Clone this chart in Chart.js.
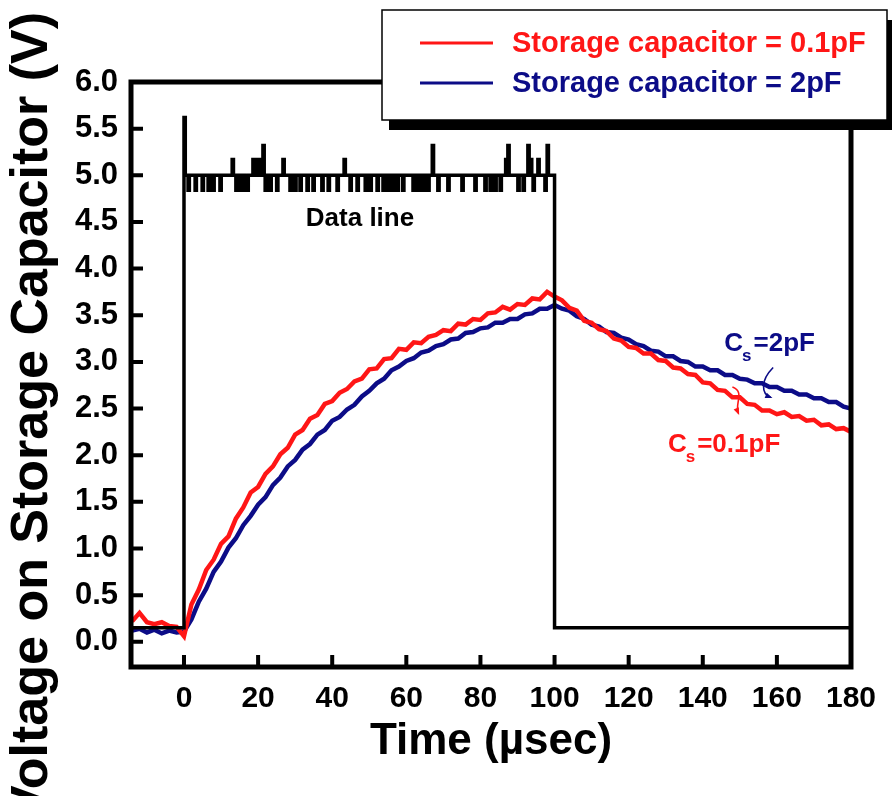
<!DOCTYPE html>
<html>
<head>
<meta charset="utf-8">
<script src="https://cdn.jsdelivr.net/npm/chart.js@4.4.0/dist/chart.umd.min.js"></script>
<style>
html, body { margin: 0; padding: 0; background: #fff; }
#wrap { width: 892px; height: 796px; }
</style>
</head>
<body>
<div id="wrap"><canvas id="myChart" width="892" height="796"></canvas></div>
<script>
// time (usec)
var timeUs = [-14,-12,-10,-8,-6,-4,-2,0,2,4,
  6,8,10,12,14,16,18,20,22,24,
  26,28,30,32,34,36,38,40,42,44,
  46,48,50,52,54,56,58,60,62,64,
  66,68,70,72,74,76,78,80,82,84,
  86,88,90,92,94,96,98,100,102,104,
  106,108,110,112,114,116,118,120,122,124,
  126,128,130,132,134,136,138,140,142,144,
  146,148,150,152,154,156,158,160,162,164,
  166,168,170,172,174,176,178,180];

// Cs = 0.1pF
var vSmallCap = [0.22,0.31,0.21,0.19,0.21,0.17,0.16,0.06,0.40,0.56,
  0.77,0.88,1.05,1.13,1.32,1.44,1.60,1.66,1.80,1.88,
  2.01,2.08,2.22,2.27,2.39,2.43,2.55,2.58,2.67,2.71,
  2.79,2.82,2.92,2.93,3.03,3.04,3.14,3.13,3.21,3.20,
  3.27,3.29,3.34,3.33,3.41,3.40,3.46,3.45,3.52,3.53,
  3.59,3.56,3.62,3.61,3.68,3.67,3.75,3.70,3.66,3.58,
  3.55,3.44,3.42,3.35,3.33,3.25,3.23,3.16,3.15,3.09,
  3.09,3.02,3.01,2.94,2.93,2.87,2.86,2.78,2.77,2.70,
  2.69,2.62,2.62,2.55,2.54,2.48,2.48,2.44,2.46,2.41,
  2.42,2.37,2.38,2.32,2.33,2.28,2.29,2.25];

// Cs = 2pF
var vLargeCap = [0.12,0.14,0.10,0.13,0.09,0.12,0.10,0.11,0.24,0.43,
  0.57,0.75,0.86,1.01,1.11,1.25,1.35,1.47,1.55,1.68,
  1.76,1.88,1.95,2.06,2.12,2.22,2.27,2.37,2.41,2.49,
  2.54,2.63,2.69,2.77,2.82,2.91,2.95,3.01,3.04,3.10,
  3.12,3.17,3.19,3.24,3.25,3.31,3.32,3.36,3.37,3.42,
  3.42,3.46,3.46,3.51,3.52,3.57,3.57,3.61,3.57,3.55,
  3.49,3.46,3.40,3.38,3.32,3.31,3.26,3.24,3.19,3.17,
  3.12,3.11,3.06,3.06,3.01,3.00,2.95,2.95,2.91,2.91,
  2.86,2.86,2.82,2.81,2.77,2.77,2.73,2.73,2.69,2.69,
  2.65,2.65,2.61,2.61,2.57,2.57,2.52,2.50];

// data line pulse: levels, edges and the glitches on the high level
var dataLow = 0.15, dataHigh = 5.0;
var dataStart = -14.3, dataOn = 0, dataOff = 100, dataEnd = 180;
var glitchT = [0.0,1.1,3.0,4.9,6.5,7.8,9.7,13.0,14.0,14.8,15.6,16.4,17.0,18.6,19.2,19.9,20.5,21.3,21.9,23.2,
  25.0,26.7,28.6,29.9,31.3,33.2,34.8,37.2,38.9,41.3,43.2,44.8,46.7,48.9,50.2,52.1,53.7,54.5,55.3,56.2,
  57.5,59.0,61.8,62.6,63.4,64.2,65.0,65.8,67.0,68.5,71.2,75.0,78.5,81.2,82.6,83.9,85.3,86.8,87.4,90.1,
  91.5,92.8,93.5,94.2,95.5,97.4,98.0];
var glitchV = [5.62,4.84,4.84,4.84,4.84,4.84,4.84,5.17,4.84,4.84,4.84,4.84,4.84,5.17,5.17,5.17,5.17,5.32,4.84,4.84,
  4.84,5.17,4.84,4.84,4.84,4.84,4.84,4.84,4.84,4.84,5.17,4.84,4.84,4.84,4.84,4.84,4.84,4.84,4.84,4.84,
  4.84,4.84,4.84,4.84,4.84,4.84,4.84,4.84,5.32,4.84,4.84,4.84,4.84,4.84,4.84,4.84,4.84,5.17,5.32,4.84,
  4.84,5.32,5.17,4.84,5.17,4.84,5.32];

var xTicks = [0,20,40,60,80,100,120,140,160,180];
var yTicks = [0,0.5,1,1.5,2,2.5,3,3.5,4,4.5,5,5.5,6];
var seriesNames = ['Storage capacitor = 0.1pF', 'Storage capacitor = 2pF'];
var seriesColors = ['#ff1616', '#0c0c87'];

var FONT = "'Liberation Sans', Arial, sans-serif";

function pairs(xs, ys) {
  var out = [];
  for (var i = 0; i < xs.length; i++) out.push({x: xs[i], y: ys[i]});
  return out;
}

var dataLine = [{x: dataStart, y: dataLow}, {x: dataOn, y: dataLow}];
for (var i = 0; i < glitchT.length; i++) {
  var t = glitchT[i];
  dataLine.push({x: t, y: dataHigh}, {x: t, y: glitchV[i]}, {x: t + 0.35, y: glitchV[i]}, {x: t + 0.35, y: dataHigh});
}
dataLine.push({x: dataOff, y: dataHigh}, {x: dataOff, y: dataLow}, {x: dataEnd, y: dataLow});

function subText(ctx, x, y, main, sub, rest, size) {
  ctx.font = 'bold ' + size + 'px ' + FONT;
  ctx.fillText(main, x, y);
  var w = ctx.measureText(main).width;
  ctx.font = 'bold ' + Math.round(size * 0.65) + 'px ' + FONT;
  ctx.fillText(sub, x + w - 1, y + 10);
  var w2 = ctx.measureText(sub).width;
  ctx.font = 'bold ' + size + 'px ' + FONT;
  ctx.fillText(rest, x + w + w2 + 1, y);
}

function curlArrow(ctx, pts, color) {
  ctx.strokeStyle = color; ctx.fillStyle = color; ctx.lineWidth = 1.6;
  ctx.beginPath();
  ctx.moveTo(pts[0][0], pts[0][1]);
  ctx.bezierCurveTo(pts[1][0], pts[1][1], pts[2][0], pts[2][1], pts[3][0], pts[3][1]);
  ctx.stroke();
  var ex = pts[3][0], ey = pts[3][1];
  var ang = Math.atan2(ey - pts[2][1], ex - pts[2][0]);
  ctx.beginPath();
  ctx.moveTo(ex + 2 * Math.cos(ang), ey + 2 * Math.sin(ang));
  ctx.lineTo(ex - 6 * Math.cos(ang - 0.5), ey - 6 * Math.sin(ang - 0.5));
  ctx.lineTo(ex - 6 * Math.cos(ang + 0.5), ey - 6 * Math.sin(ang + 0.5));
  ctx.closePath();
  ctx.fill();
}

var decor = {
  id: 'decor',
  afterDatasetsDraw: function(chart) {
    var ctx = chart.ctx, a = chart.chartArea, xs = chart.scales.x, ys = chart.scales.y;
    ctx.save();
    ctx.strokeStyle = '#000';
    ctx.lineWidth = 5;
    ctx.strokeRect(a.left, a.top, a.right - a.left, a.bottom - a.top);
    ctx.lineWidth = 4;
    ctx.beginPath();
    xTicks.forEach(function(t) {
      var p = xs.getPixelForValue(t);
      ctx.moveTo(p, a.bottom); ctx.lineTo(p, a.bottom - 12);
    });
    yTicks.forEach(function(v) {
      var p = ys.getPixelForValue(v);
      ctx.moveTo(a.left, p); ctx.lineTo(a.left + 12, p);
    });
    ctx.stroke();

    // text labels inside the plot
    ctx.fillStyle = '#000';
    ctx.textAlign = 'center';
    ctx.textBaseline = 'middle';
    ctx.font = 'bold 26px ' + FONT;
    ctx.fillText('Data line', xs.getPixelForValue(47.5), ys.getPixelForValue(4.53));

    ctx.textAlign = 'left';
    ctx.textBaseline = 'alphabetic';
    ctx.fillStyle = seriesColors[1];
    subText(ctx, xs.getPixelForValue(145.8), ys.getPixelForValue(3.12), 'C', 's', '=2pF', 26);
    ctx.fillStyle = seriesColors[0];
    subText(ctx, xs.getPixelForValue(130.6), ys.getPixelForValue(2.03), 'C', 's', '=0.1pF', 26);

    function P(t, v) { return [xs.getPixelForValue(t), ys.getPixelForValue(v)]; }
    curlArrow(ctx, [P(159.0, 2.94), P(155.5, 2.80), P(155.8, 2.66), P(158.3, 2.62)], seriesColors[1]);
    curlArrow(ctx, [P(148.0, 2.73), P(151.5, 2.68), P(148.5, 2.55), P(149.6, 2.45)], seriesColors[0]);
    ctx.restore();
  },
  afterDraw: function(chart) {
    var ctx = chart.ctx;
    ctx.save();
    // y axis title
    ctx.translate(47, 416);
    ctx.rotate(-Math.PI / 2);
    ctx.fillStyle = '#000';
    ctx.font = 'bold 52px ' + FONT;
    ctx.textAlign = 'center';
    ctx.textBaseline = 'alphabetic';
    ctx.fillText('Voltage on Storage Capacitor (V)', 0, 0);
    ctx.restore();

    // legend box with drop shadow
    ctx.save();
    var bx = 382, by = 10, bw = 505, bh = 110;
    ctx.fillStyle = '#000';
    ctx.fillRect(bx + 7, by + 10, bw, bh);
    ctx.fillStyle = '#fff';
    ctx.fillRect(bx, by, bw, bh);
    ctx.strokeStyle = '#000';
    ctx.lineWidth = 1.5;
    ctx.strokeRect(bx, by, bw, bh);
    ctx.textAlign = 'left';
    ctx.textBaseline = 'middle';
    ctx.font = 'bold 29px ' + FONT;
    var rows = [44, 84];
    for (var k = 0; k < 2; k++) {
      ctx.strokeStyle = seriesColors[k];
      ctx.lineWidth = 3;
      ctx.beginPath();
      ctx.moveTo(420, rows[k] - 1); ctx.lineTo(493, rows[k] - 1);
      ctx.stroke();
      ctx.fillStyle = seriesColors[k];
      ctx.fillText(chart.data.datasets[k + 1].label, 512, rows[k]);
    }
    ctx.restore();
  }
};

var ctx = document.getElementById('myChart').getContext('2d');
window.chart = new Chart(ctx, {
  type: 'line',
  data: {
    datasets: [{
      label: 'Data line',
      data: dataLine,
      borderColor: '#000',
      borderWidth: 3.5,
      pointRadius: 0,
      tension: 0
    }, {
      label: seriesNames[0],
      data: pairs(timeUs, vSmallCap),
      borderColor: seriesColors[0],
      borderWidth: 4.5,
      pointRadius: 0,
      tension: 0
    }, {
      label: seriesNames[1],
      data: pairs(timeUs, vLargeCap),
      borderColor: seriesColors[1],
      borderWidth: 4.5,
      pointRadius: 0,
      tension: 0
    }]
  },
  options: {
    responsive: false,
    devicePixelRatio: 1,
    animation: false,
    layout: { padding: { left: 0, right: 41, top: 82, bottom: 0 } },
    plugins: { legend: { display: false }, tooltip: { enabled: false } },
    scales: {
      x: {
        type: 'linear',
        min: -14.3,
        max: 180,
        grid: { display: false, drawTicks: false },
        border: { display: false },
        afterBuildTicks: function(scale) { scale.ticks = xTicks.map(function(v) { return {value: v}; }); },
        afterFit: function(scale) { scale.height = 129; },
        ticks: {
          autoSkip: false,
          maxRotation: 0,
          padding: 14,
          color: '#000',
          font: { family: FONT, size: 30, weight: 'bold' }
        },
        title: {
          display: true,
          text: 'Time (\u00b5sec)',
          color: '#000',
          font: { family: FONT, size: 44, weight: 'bold' },
          padding: { top: 0, bottom: 28 }
        }
      },
      y: {
        min: -0.27,
        max: 6.0,
        grid: { display: false, drawTicks: false },
        border: { display: false },
        afterBuildTicks: function(scale) { scale.ticks = yTicks.map(function(v) { return {value: v}; }); },
        afterFit: function(scale) { scale.width = 131; },
        ticks: {
          autoSkip: false,
          padding: 13,
          color: '#000',
          font: { family: FONT, size: 31, weight: 'bold' },
          callback: function(v) { return Number(v).toFixed(1); }
        }
      }
    }
  },
  plugins: [decor]
});
</script>
</body>
</html>
